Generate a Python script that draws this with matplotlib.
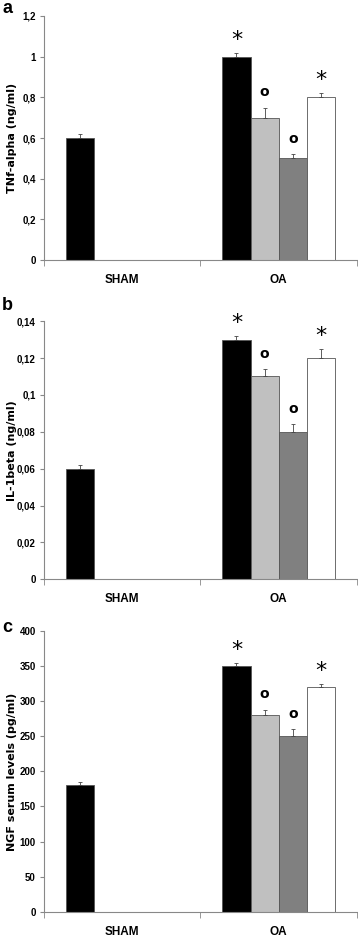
import matplotlib.pyplot as plt
import numpy as np
from matplotlib.ticker import FuncFormatter, MultipleLocator, FixedLocator
from matplotlib import font_manager

groups = ['SHAM', 'OA']
bar_colors = ['#000000', '#c0c0c0', '#808080', '#ffffff']

# one row per series, columns = SHAM, OA
tnf = [[0.6, 1.0], [np.nan, 0.7], [np.nan, 0.5], [np.nan, 0.8]]
tnf_err = [[0.02, 0.02], [0, 0.05], [0, 0.02], [0, 0.02]]
il1 = [[0.06, 0.13], [np.nan, 0.11], [np.nan, 0.08], [np.nan, 0.12]]
il1_err = [[0.002, 0.002], [0, 0.004], [0, 0.004], [0, 0.005]]
ngf = [[180, 350], [np.nan, 280], [np.nan, 250], [np.nan, 320]]
ngf_err = [[5, 5], [0, 8], [0, 10], [0, 5]]
signs = ['*', 'o', 'o', '*']  # above the OA bars

panels = [
    ('a', tnf, tnf_err, 'TNf-alpha (ng/ml)', 1.2, 0.2, [0.123, 0.723, 0.874, 0.260], 0.986),
    ('b', il1, il1_err, 'IL-1beta (ng/ml)', 0.14, 0.02, [0.123, 0.383, 0.874, 0.275], 0.670),
    ('c', ngf, ngf_err, 'NGF serum levels (pg/ml)', 400, 50, [0.123, 0.029, 0.874, 0.299], 0.327),
]

installed = {f.name for f in font_manager.fontManager.ttflist}
narrow = [f for f in ['Liberation Sans Narrow', 'DejaVu Sans Condensed', 'Liberation Sans']
          if f in installed] + ['DejaVu Sans']

fig = plt.figure(figsize=(3.58, 9.39), dpi=100)

def fmt(v, pos):
    return ('%g' % round(v, 4)).replace('.', ',')

w = 0.18
x = np.arange(len(groups))
for letter, vals, errs, ylab, ytop, step, rect, ly in panels:
    ax = fig.add_axes(rect)
    for i in range(4):
        xi = x + (i - 1.5) * w
        v = np.array(vals[i], dtype=float)
        e = np.array(errs[i], dtype=float)
        ax.bar(xi, v, w, color=bar_colors[i], edgecolor='#555555', linewidth=0.6, zorder=2)
        ok = ~np.isnan(v)
        ax.errorbar(xi[ok], v[ok], yerr=[np.zeros(ok.sum()), e[ok]], fmt='none',
                    ecolor='#444444', elinewidth=0.6, capsize=1.5, capthick=0.6, zorder=3)
        s = signs[i]
        ax.annotate(s, (xi[1], v[1] + e[1]), xytext=(0, 2 if s == '*' else 6),
                    textcoords='offset points', ha='center', va='bottom',
                    fontsize=16 if s == '*' else 10, fontweight='bold' if s == 'o' else 'normal',
                    family='DejaVu Sans')
    ax.set_xlim(-0.5, 1.5)
    ax.set_ylim(0, ytop)
    ax.yaxis.set_major_locator(MultipleLocator(step))
    ax.yaxis.set_major_formatter(FuncFormatter(fmt))
    ax.set_xticks(x)
    ax.set_xticklabels(groups, family=narrow, fontweight='bold', fontsize=8.5)
    ax.xaxis.set_minor_locator(FixedLocator([-0.5, 0.5, 1.5]))
    ax.tick_params(axis='x', which='major', length=0, pad=10)
    ax.tick_params(axis='x', which='minor', length=4, color='#888888')
    ax.tick_params(axis='y', length=3, color='#888888', labelsize=7, pad=3)
    for lab in ax.get_yticklabels():
        lab.set_family(narrow)
        lab.set_fontweight('bold')
    for sp in ['top', 'right']:
        ax.spines[sp].set_visible(False)
    for sp in ['left', 'bottom']:
        ax.spines[sp].set_color('#888888')
        ax.spines[sp].set_linewidth(0.8)
    ax.set_ylabel(ylab, fontsize=8, fontweight='bold')
    ax.yaxis.set_label_coords(-0.086, 0.5)
    fig.text(0.006, ly, letter, fontsize=13, fontweight='bold', va='baseline', ha='left',
             family='Liberation Sans')

fig.savefig('out.png', dpi=100)
